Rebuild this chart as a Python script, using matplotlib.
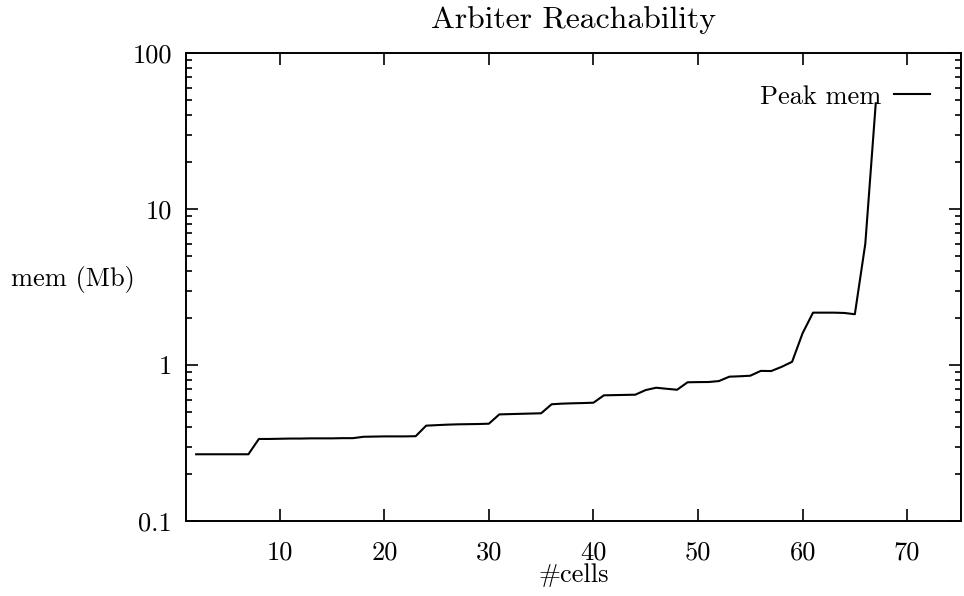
import matplotlib
matplotlib.use("Agg")
from matplotlib import pyplot as plt
from matplotlib.ticker import LogLocator, NullFormatter

# data
cells = list(range(2, 68))
peak_mem = [
    0.268, 0.268, 0.268, 0.268, 0.268, 0.268,          # 2-7
    0.336, 0.336, 0.337, 0.338, 0.338, 0.339, 0.339,   # 8-14
    0.339, 0.340, 0.340, 0.347, 0.348, 0.349, 0.349,   # 15-21
    0.349, 0.350, 0.409, 0.412, 0.415, 0.417, 0.418,   # 22-28
    0.419, 0.421, 0.483, 0.485, 0.487, 0.489, 0.491,   # 29-35
    0.561, 0.566, 0.569, 0.571, 0.574, 0.640, 0.642,   # 36-42
    0.644, 0.646, 0.692, 0.716, 0.705, 0.695, 0.776,   # 43-49
    0.778, 0.779, 0.790, 0.843, 0.848, 0.855, 0.918,   # 50-56
    0.916, 0.975, 1.05, 1.60, 2.17, 2.17, 2.17,        # 57-63
    2.16, 2.12, 6.0, 47.8,                             # 64-67
]
ytick_vals = [0.1, 1, 10, 100]
ytick_labels = ["0.1", "1", "10", "100"]
xtick_vals = [10, 20, 30, 40, 50, 60, 70]

plt.rcParams["font.family"] = ["cmr10", "DejaVu Serif"]
plt.rcParams["axes.formatter.use_mathtext"] = True
plt.rcParams["font.size"] = 19

fig = plt.figure(figsize=(9.64, 5.96), dpi=100)
ax = fig.add_axes([0.1926, 0.1258, 0.8048, 0.7848])

ax.plot(cells, peak_mem, color="black", lw=1.5, label="Peak mem")

ax.set_yscale("log")
ax.set_ylim(0.1, 100)
ax.set_xlim(1, 75.2)
ax.set_yticks(ytick_vals)
ax.set_yticklabels(ytick_labels)
ax.yaxis.set_minor_locator(LogLocator(base=10, subs=range(2, 10)))
ax.yaxis.set_minor_formatter(NullFormatter())
ax.set_xticks(xtick_vals)
ax.set_xticklabels([str(v) for v in xtick_vals])

ax.tick_params(which="both", direction="in", top=True, right=True, width=1.2)
ax.tick_params(which="major", length=8.5, pad=10)
ax.tick_params(which="minor", length=4.5)
ax.tick_params(axis="x", pad=14)
for s in ax.spines.values():
    s.set_linewidth(1.4)

ax.set_title("Arbiter Reachability", pad=18)
ax.set_xlabel("#cells")
ax.xaxis.set_label_coords(0.5, -0.1155)
ax.xaxis.label.set_va("center")
ax.set_ylabel("mem (Mb)", rotation=0, va="center", ha="center")
ax.yaxis.set_label_coords(-0.1448, 0.517)

ax.legend(loc="upper right", frameon=False, markerfirst=False,
          handlelength=1.36, handletextpad=0.47, borderaxespad=0.8)

fig.savefig("out.png", dpi=100)
